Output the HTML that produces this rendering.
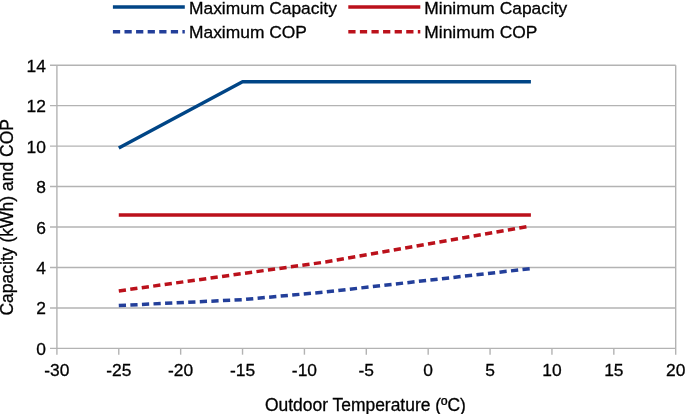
<!DOCTYPE html>
<html><head><meta charset="utf-8"><style>
html,body{margin:0;padding:0;background:#fff;}
svg{display:block;}
text{font-family:"Liberation Sans",sans-serif;font-size:17.4px;fill:#000;stroke:#000;stroke-width:0.3px;}
</style></head><body>
<svg width="685" height="414" viewBox="0 0 685 414">
<rect width="685" height="414" fill="#fff"/>
<g stroke="#b3b3b3" stroke-width="1.4" fill="none">
<line x1="50" y1="348.40" x2="675.70" y2="348.40"/>
<line x1="50" y1="307.94" x2="675.70" y2="307.94"/>
<line x1="50" y1="267.49" x2="675.70" y2="267.49"/>
<line x1="50" y1="227.03" x2="675.70" y2="227.03"/>
<line x1="50" y1="186.57" x2="675.70" y2="186.57"/>
<line x1="50" y1="146.11" x2="675.70" y2="146.11"/>
<line x1="50" y1="105.66" x2="675.70" y2="105.66"/>
<line x1="50" y1="65.20" x2="675.70" y2="65.20"/>
<line x1="56.90" y1="65.20" x2="56.90" y2="354.7"/>
<line x1="675.70" y1="65.20" x2="675.70" y2="354.7"/>
<line x1="118.78" y1="348.40" x2="118.78" y2="354.7"/>
<line x1="180.66" y1="348.40" x2="180.66" y2="354.7"/>
<line x1="242.54" y1="348.40" x2="242.54" y2="354.7"/>
<line x1="304.42" y1="348.40" x2="304.42" y2="354.7"/>
<line x1="366.30" y1="348.40" x2="366.30" y2="354.7"/>
<line x1="428.18" y1="348.40" x2="428.18" y2="354.7"/>
<line x1="490.06" y1="348.40" x2="490.06" y2="354.7"/>
<line x1="551.94" y1="348.40" x2="551.94" y2="354.7"/>
<line x1="613.82" y1="348.40" x2="613.82" y2="354.7"/>
</g>
<g fill="none" stroke-width="3.5" stroke-linejoin="round">
<polyline points="118.78,147.93 242.54,81.79 530.90,81.79" stroke="#004586"/>
<polyline points="118.78,214.89 530.90,214.89" stroke="#bb111b"/>
<polyline points="118.78,305.52 242.54,299.65 325.46,291.96 530.90,268.60" stroke="#233f9a" stroke-dasharray="7.25 4.335"/>
<polyline points="118.78,290.95 242.54,273.55 325.46,262.02 529.91,226.20" stroke="#bb111b" stroke-dasharray="7.25 4.335"/>
</g>
<g opacity="0.999">
<text x="45.9" y="354.50" text-anchor="end">0</text>
<text x="45.9" y="314.00" text-anchor="end">2</text>
<text x="45.9" y="273.70" text-anchor="end">4</text>
<text x="45.9" y="233.60" text-anchor="end">6</text>
<text x="45.9" y="192.70" text-anchor="end">8</text>
<text x="45.9" y="153.00" text-anchor="end">10</text>
<text x="45.9" y="112.20" text-anchor="end">12</text>
<text x="45.9" y="72.30" text-anchor="end">14</text>
<text x="56.90" y="375.8" text-anchor="middle">-30</text>
<text x="118.78" y="375.8" text-anchor="middle">-25</text>
<text x="180.66" y="375.8" text-anchor="middle">-20</text>
<text x="242.54" y="375.8" text-anchor="middle">-15</text>
<text x="304.42" y="375.8" text-anchor="middle">-10</text>
<text x="366.30" y="375.8" text-anchor="middle">-5</text>
<text x="428.18" y="375.8" text-anchor="middle">0</text>
<text x="490.06" y="375.8" text-anchor="middle">5</text>
<text x="551.94" y="375.8" text-anchor="middle">10</text>
<text x="613.82" y="375.8" text-anchor="middle">15</text>
<text x="675.70" y="375.8" text-anchor="middle">20</text>
<text x="365.4" y="411" text-anchor="middle" style="font-size:17.46px">Outdoor Temperature (ºC)</text>
<text transform="translate(12.9,217.3) rotate(-90)" text-anchor="middle" style="font-size:17.5px">Capacity (kWh) and COP</text>
<g fill="none" stroke-width="3.5">
<line x1="112.9" y1="7" x2="184.8" y2="7" stroke="#004586"/>
<line x1="112.9" y1="31.8" x2="184.8" y2="31.8" stroke="#233f9a" stroke-dasharray="7.25 4.335"/>
<line x1="348.3" y1="7" x2="420.3" y2="7" stroke="#bb111b"/>
<line x1="348.3" y1="31.8" x2="420.3" y2="31.8" stroke="#bb111b" stroke-dasharray="7.25 4.335"/>
</g>
<text x="189.0" y="13.8">Maximum Capacity</text>
<text x="189.0" y="37.6">Maximum COP</text>
<text x="424.3" y="13.8">Minimum Capacity</text>
<text x="424.3" y="37.6">Minimum COP</text>
</g>
</svg>
</body></html>
